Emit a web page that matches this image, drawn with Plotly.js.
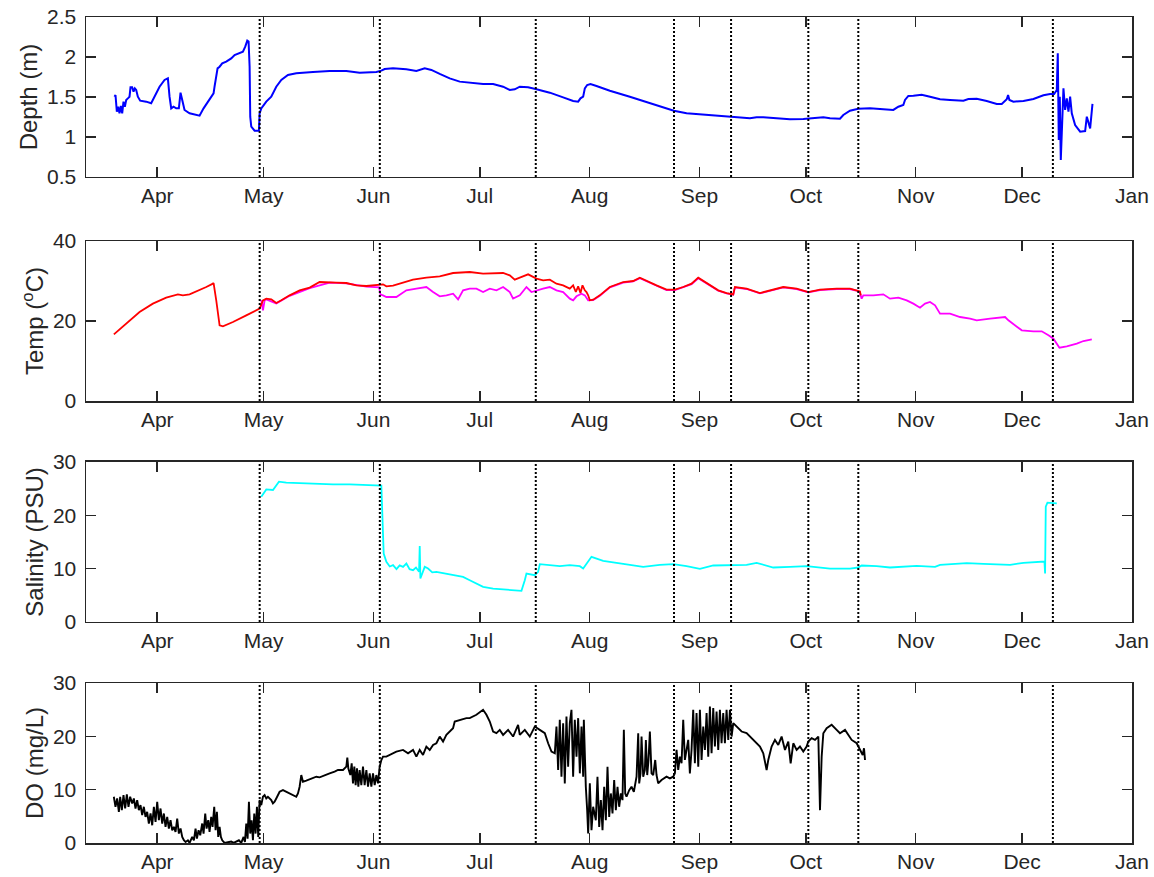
<!DOCTYPE html>
<html>
<head>
<meta charset="utf-8">
<script src="https://cdn.plot.ly/plotly-3.0.1.min.js"></script>
<style>html,body{margin:0;padding:0;background:#fff;}#chart{width:1154px;height:877px;}</style>
</head>
<body>
<div id="chart"></div>
<script>
// ---- data (x as days since 2015-01-01) ----
const depthDay = [77.94,78.22,78.6,78.98,79.35,79.73,80.11,80.48,80.86,81.24,81.71,82.18,82.46,82.93,83.31,83.68,84.06,84.53,85.19,86.88,88.29,89.23,90.65,92.06,93.0,93.47,93.94,94.6,95.35,96.1,96.57,97.05,97.7,99.12,101.94,103.07,104.76,105.89,106.17,106.83,107.02,107.59,108.34,109.47,110.88,111.82,113.23,114.17,114.83,115.4,115.77,116.06,116.24,116.53,117.47,118.69,118.88,119.35,120.76,122.17,123.58,125.0,126.88,129.23,133.94,138.64,143.35,147.11,151.82,153.23,154.17,156.52,160.29,163.11,165.46,167.34,169.7,172.52,175.34,
178.17,181.93,184.76,187.58,189.46,190.87,192.29,194.64,197.0,200.76,204.52,207.34,208.76,209.41,210.17,210.64,211.3,212.24,213.93,217.7,223.34,228.99,232.75,235.76,239.34,244.05,249.69,253.46,257.22,259.1,260.99,264.75,268.51,272.28,276.04,277.93,279.81,282.63,283.57,
285.45,287.8,291.1,294.86,297.68,299.1,300.5,300.98,301.92,303.33,305.68,308.04,310.86,313.68,317.45,318.86,321.21,324.03,326.86,328.27,329.21,329.68,330.06,330.43,331.56,334.39,337.21,340.03,341.92,343.05,343.8,344.08,344.36,344.65,344.93,345.3,345.68,346.15,346.62,347.09,347.56,348.03,348.97,350.39,351.8,352.27,352.74,353.21,353.87];
const depthVal = [1.504,1.525,1.317,1.379,1.296,1.387,1.296,1.442,1.379,1.463,1.483,1.504,1.621,1.621,1.567,1.608,1.588,1.504,1.454,1.442,1.421,1.504,1.629,1.713,1.733,1.504,1.358,1.379,1.358,1.358,1.554,1.463,1.338,1.296,1.267,1.358,1.463,1.546,1.629,1.796,1.858,1.879,1.921,1.942,1.983,2.025,2.054,2.067,2.129,2.204,2.192,1.879,1.254,1.129,1.079,1.079,1.296,1.358,1.442,1.504,1.629,1.713,1.775,1.796,1.813,1.825,1.825,1.804,1.813,1.829,1.85,1.858,1.846,1.825,1.858,1.838,1.788,1.733,1.692,
1.679,1.662,1.662,1.629,1.588,1.596,1.629,1.621,1.596,1.554,1.496,1.450,1.442,1.483,1.504,1.608,1.65,1.662,1.638,1.579,1.504,1.421,1.371,1.329,1.296,1.279,1.254,1.242,1.233,1.246,1.246,1.233,1.221,1.225,1.237,1.246,1.233,1.229,1.275,
1.329,1.354,1.358,1.346,1.338,1.379,1.4,1.463,1.513,1.517,1.529,1.504,1.471,1.463,1.454,1.475,1.479,1.45,1.413,1.413,1.45,1.471,1.525,1.463,1.442,1.45,1.475,1.521,1.538,1.538,1.588,2.046,0.963,1.504,0.713,1.129,1.608,1.338,1.483,1.317,1.504,1.296,1.15,1.067,1.075,1.254,1.171,1.108,1.413];

const tempMagDay = [119.36,119.83,120.3,120.77,123.59,127.35,133.0,138.65,143.35,149.0,152.6,153.0,153.7,154.65,157.47,160.29,163.12,165.94,167.82,169.7,171.59,173.47,174.88,176.29,178.17,180.05,181.93,183.82,185.7,187.58,189.46,190.4,192.29,194.17,195.58,197.0,198.87,200.76,202.64,204.52,206.4,207.34,208.29,209.7,210.64,211.58,212.99,214.87,217.7,221.46,224.28,226.17,228.05,230.87,233.7,236.05,238.4,240.75,242.64,244.05,245.93,248.28,250.63,252.52,252.99,256.28,260.04,262.87,266.63,270.4,273.69,276.98,281.69,285.45,287.81,288.27,288.74,289.21,292.04,294.86,296.74,299.1,301.45,303.33,305.21,306.63,308.04,309.45,310.86,313.68,316.51,319.33,321.21,324.98,329.21,330.15,332.51,333.92,337.21,339.56,341.45,342.86,344.55,346.62,349.44,351.33,353.68];
const tempMagVal = [25.2,22.67,25.17,25.4,24.4,26.3,28.2,29.6,29.4,28.6,28.4,26.6,26.42,26.0,26.0,27.67,28.09,28.5,27.25,26.17,26.42,26.84,25.42,27.67,28.09,28.09,27.25,28.09,27.67,28.5,27.25,25.59,26.42,28.5,27.25,27.67,28.09,28.5,27.67,27.25,25.59,25.17,26.17,26.84,26.42,25.17,25.2,26.3,28.4,29.6,29.9,30.7,29.9,28.8,27.7,27.7,28.4,29.2,30.7,29.9,28.8,27.6,26.9,26.6,28.4,28.0,26.9,27.6,28.4,28.0,27.2,27.7,28.0,28.0,27.5,27.0,25.59,26.42,26.42,26.67,25.59,25.84,25.17,24.34,23.34,24.34,24.75,23.92,21.84,21.84,21.0,20.59,20.17,20.59,21.0,20.17,18.5,17.67,17.42,17.42,16.42,15.59,13.34,13.67,14.34,15.0,15.42];

const tempRedDay = [77.76,81.24,85.01,88.77,92.53,95.83,97.24,99.12,101.95,103.83,105.71,105.9,106.65,107.59,108.53,111.36,115.12,118.88,119.83,120.77,122.18,123.59,125.0,127.35,130.18,133.0,135.82,138.65,140.53,143.35,146.18,149.0,151.82,153.7,154.65,156.53,158.41,162.17,165.94,169.7,173.47,177.23,
178.17,181.93,185.7,187.58,189.46,190.87,192.29,194.64,197.0,198.87,200.76,202.64,204.52,206.4,207.34,208.1,208.76,209.41,209.98,210.64,211.11,211.58,212.05,212.99,214.87,217.7,221.46,224.28,226.17,228.05,230.87,233.7,236.05,238.4,240.75,242.64,244.05,245.93,248.28,250.63,252.52,252.99,256.28,260.04,262.87,266.63,270.4,273.69,276.98,281.69,285.45,287.81,288.27,288.5];
const tempRedVal = [16.67,19.34,22.25,24.34,25.84,26.67,26.42,26.67,27.67,28.5,29.34,29.5,25.17,18.92,18.67,19.75,21.42,23.09,25.17,25.59,25.42,24.5,25.17,26.42,27.67,28.34,29.75,29.75,29.59,29.5,28.92,28.75,28.92,29.17,28.67,28.84,29.34,30.34,30.84,31.17,32.0,32.17,
32.25,31.84,31.84,32.0,31.42,30.34,30.84,31.67,30.59,30.17,30.34,29.34,28.92,28.09,28.92,27.25,28.67,27.0,28.92,27.67,27.25,26.42,25.17,25.34,26.42,28.5,29.75,30.0,30.84,30.0,28.92,27.84,27.84,28.5,29.34,30.84,30.0,28.92,27.67,27.0,26.67,28.5,28.09,27.0,27.67,28.5,28.09,27.25,27.84,28.09,28.09,27.67,27.4,26.42];

const salDay = [119.35,120.77,122.65,123.4,124.34,126.41,130.18,134.88,139.59,144.29,149.0,153.23,
153.89,154.65,155.6,156.53,157.5,158.4,159.35,160.29,161.2,162.17,163.0,163.87,164.06,164.24,165.47,166.41,167.6,168.76,171.0,173.47,176.29,178.17,180.05,181.94,184.76,187.58,190.41,192.76,193.7,194.17,196.52,197.46,197.94,200.76,203.58,206.4,209.23,210.17,211.58,212.52,215.82,221.46,227.11,231.81,235.58,239.34,243.11,246.87,251.58,256.28,259.11,263.81,268.52,273.22,279.81,
285.45,287.8,288.74,292.98,296.74,304.27,309.45,310.86,318.39,323.09,330.62,334.39,337.21,340.32,340.5,340.69,341.16,342.39,343.8];
const salVal = [23.49,24.86,24.74,25.36,26.3,26.11,25.99,25.86,25.8,25.8,25.68,25.55,
12.84,11.27,10.4,10.65,9.9,10.6,10.34,10.96,9.9,9.71,10.2,9.4,14.22,8.15,10.34,10.02,9.3,9.4,9.1,8.77,8.46,7.83,7.21,6.58,6.26,6.08,5.95,5.83,7.83,9.08,8.77,9.4,10.84,10.65,10.46,10.65,10.46,10.02,11.27,12.21,11.46,10.84,10.34,10.71,10.84,10.46,9.96,10.59,10.59,10.71,11.09,10.21,10.34,10.46,10.02,
10.02,10.21,10.59,10.46,10.21,10.52,10.34,10.71,11.02,10.9,10.71,11.09,11.21,11.34,9.08,21.61,22.36,22.36,22.23];

const doDay = [77.75,78.22,78.69,79.17,79.54,80.01,80.48,80.95,81.42,81.89,82.36,82.93,83.4,83.87,84.34,84.81,85.28,85.75,86.22,86.69,87.16,87.63,88.11,88.58,89.05,89.52,89.99,90.46,90.93,91.4,91.87,92.34,92.81,93.28,93.75,94.22,94.69,95.16,95.63,96.1,96.58,97.05,97.52,97.99,98.65,99.12,99.87,100.34,100.81,101.19,101.66,102.13,102.69,103.07,103.54,103.92,104.39,104.76,105.23,105.61,106.08,106.46,106.83,107.21,107.59,107.96,108.34,109.0,109.94,110.88,111.54,112.29,113.04,113.7,114.36,114.74,115.12,115.49,115.87,116.24,116.62,117.0,117.37,117.75,118.13,118.5,118.69,118.88,119.35,119.82,120.29,120.76,121.23,122.17,122.64,123.11,123.58,124.53,125.47,126.41,127.35,128.29,129.23,129.7,130.17,130.64,131.11,132.06,133.47,134.88,135.82,137.23,138.64,140.05,140.99,142.41,143.35,143.63,143.91,144.48,144.86,145.23,145.61,145.98,146.36,146.74,147.11,147.58,148.05,148.52,149.0,149.47,149.94,150.41,150.88,151.35,151.82,152.29,152.76,153.23,153.7,154.64,155.58,157.46,159.35,160.76,162.17,163.11,164.05,164.99,165.93,166.88,167.82,168.76,169.7,170.64,171.58,172.52,173.46,173.93,175.35,177.23,
178.17,180.05,181.93,182.88,183.82,184.76,185.7,186.64,187.58,188.99,190.4,191.81,192.29,193.7,195.11,196.52,197.93,199.35,200.29,201.23,202.17,202.64,203.11,203.58,204.05,204.52,204.99,205.46,205.93,206.4,206.87,207.34,207.81,208.29,208.76,209.23,209.7,210.17,210.36,210.64,210.92,211.3,211.58,212.05,212.52,212.99,213.74,214.21,214.69,215.16,215.63,216.1,216.57,217.04,217.51,217.98,218.45,218.92,219.39,219.86,220.33,220.8,221.27,221.65,222.03,222.4,223.16,223.81,224.47,225.23,225.7,225.98,226.35,226.64,227.11,227.58,227.86,228.24,228.61,228.99,229.46,229.93,230.5,230.87,231.34,232.28,233.69,234.64,235.58,236.05,236.52,236.99,237.46,237.93,238.4,238.87,239.34,239.81,240.28,240.75,241.22,241.69,242.16,242.64,243.11,243.58,244.05,244.52,244.99,245.46,245.93,246.4,246.87,247.34,247.81,248.28,248.75,249.22,249.69,250.16,250.63,251.11,251.58,252.05,252.52,253.46,254.87,256.28,257.69,259.1,260.05,260.99,261.93,262.4,263.34,264.28,265.22,266.16,267.11,268.05,268.71,269.46,270.4,271.34,272.28,273.22,273.69,274.63,275.58,276.52,276.99,277.46,277.93,278.87,280.28,281.69,282.63,284.05,284.99,285.93,287.34,288.28,289.04,289.41,289.69];
const doVal = [8.67,6.79,8.35,5.84,8.67,6.16,8.98,6.47,9.11,6.79,8.67,7.41,8.35,6.47,8.04,6.16,7.1,5.22,6.79,4.9,5.84,3.65,5.53,3.33,6.79,3.96,7.73,4.27,6.47,3.65,5.53,3.02,4.9,2.71,4.27,2.39,3.02,2.08,4.59,1.77,2.71,1.14,0.51,0.2,0.51,0.01,1.14,0.51,2.71,0.82,2.39,1.45,3.65,1.77,5.53,2.71,4.27,2.08,4.9,3.02,6.79,2.39,5.84,1.14,3.02,1.14,0.51,0.01,0.13,0.26,0.01,0.2,0.51,0.01,1.14,0.2,3.65,0.82,7.73,1.77,4.27,0.51,5.53,1.77,6.79,1.14,6.16,8.04,7.1,8.67,8.98,8.35,8.67,8.04,7.41,7.73,8.35,9.61,9.92,9.61,9.29,8.98,8.67,9.29,10.55,12.74,11.49,11.68,12.12,12.43,12.31,12.74,13.06,13.37,13.69,13.69,14.31,16.01,14.0,12.74,14.94,11.18,14.31,10.86,14.0,10.55,13.69,10.86,14.31,10.86,13.69,10.55,13.06,10.55,13.06,10.86,12.74,11.18,14.31,15.57,16.2,16.2,16.51,17.14,17.45,16.82,17.45,16.2,17.45,16.51,18.08,17.45,18.39,18.7,19.96,19.02,20.27,20.9,21.53,22.78,23.1,23.41,
23.41,24.04,24.98,24.04,22.78,20.9,20.59,21.21,20.27,21.21,19.96,22.16,20.27,21.21,19.96,21.84,21.21,20.59,18.7,17.14,16.82,21.84,13.69,23.1,12.43,22.47,11.18,23.72,14.31,22.47,24.98,12.43,23.1,16.2,23.41,13.06,21.84,12.43,23.1,15.57,10.55,6.16,1.77,11.18,2.39,6.79,4.27,12.43,3.02,8.04,2.39,10.55,4.27,14.31,4.9,9.29,5.53,11.8,6.16,10.55,6.79,9.29,8.04,21.21,9.29,8.67,9.92,10.55,9.61,12.43,20.59,11.18,13.06,19.96,12.43,13.69,19.33,12.74,15.57,20.9,13.06,12.74,15.57,12.74,11.18,11.8,12.43,12.12,12.43,13.06,17.45,13.69,16.2,14.94,23.1,15.57,17.45,19.33,13.06,17.45,24.98,14.94,24.35,14.31,24.98,15.57,21.84,17.45,24.35,16.2,25.61,16.82,25.29,18.08,24.67,17.45,24.98,18.7,24.35,18.7,24.98,19.33,24.98,19.96,22.47,21.84,20.9,20.59,19.65,18.7,18.08,16.82,13.69,15.57,18.08,19.33,18.39,19.96,17.45,19.02,14.94,18.7,17.45,18.08,17.14,18.08,19.02,19.65,19.33,19.96,6.16,16.2,20.59,21.53,22.16,21.21,20.59,21.21,20.27,19.33,18.7,17.45,16.51,17.76,15.57];

const eventDay = [118.9,152.8,196.8,235.8,251.9,273.7,287.8,342.7];
const monthTicks = ['2015-04-01','2015-05-01','2015-06-01','2015-07-01','2015-08-01','2015-09-01','2015-10-01','2015-11-01','2015-12-01','2016-01-01'];
const monthLabels = ['Apr','May','Jun','Jul','Aug','Sep','Oct','Nov','Dec','Jan'];

// ---- helpers ----
function toDate(d){
  const ms = Date.UTC(2015,0,1) + d*86400000;
  return new Date(ms).toISOString().replace('T',' ').slice(0,19);
}
const D = arr => arr.map(toDate);

const FONT = 'Liberation Sans, Arial, Helvetica, sans-serif';
const INK = '#262626';

const traces = [
  {x:D(depthDay), y:depthVal, xaxis:'x', yaxis:'y', type:'scatter', mode:'lines', line:{color:'#0000ff', width:2}},
  {x:D(tempMagDay), y:tempMagVal, xaxis:'x2', yaxis:'y2', type:'scatter', mode:'lines', line:{color:'#ff00ff', width:1.8}},
  {x:D(tempRedDay), y:tempRedVal, xaxis:'x2', yaxis:'y2', type:'scatter', mode:'lines', line:{color:'#ff0000', width:1.8}},
  {x:D(salDay), y:salVal, xaxis:'x3', yaxis:'y3', type:'scatter', mode:'lines', line:{color:'#00ffff', width:1.8}},
  {x:D(doDay), y:doVal, xaxis:'x4', yaxis:'y4', type:'scatter', mode:'lines', line:{color:'#000000', width:1.9}}
];

const xRange = [toDate(69.9), toDate(365.02)];
function xAxis(anchor){
  return {
    type:'date', range:xRange, anchor:anchor, matches: anchor==='y' ? undefined : 'x',
    tickvals:monthTicks, ticktext:monthLabels,
    ticks:'inside', ticklen:10, tickwidth:1.5, tickcolor:INK,
    showline:true, linecolor:INK, linewidth:1.5, mirror:'allticks',
    showgrid:false, zeroline:false, ticklabelstandoff:-1,
    tickfont:{family:FONT, size:21, color:INK}
  };
}
function yAxis(anchor, domain, range, tv, tt, title){
  return {
    anchor:anchor, domain:domain, range:range,
    tickvals:tv, ticktext:tt,
    ticks:'inside', ticklen:10, tickwidth:1.5, tickcolor:INK,
    showline:true, linecolor:INK, linewidth:1.5, mirror:'allticks',
    showgrid:false, zeroline:false, ticklabelstandoff:4,
    tickfont:{family:FONT, size:21, color:INK},
    title:{text:title, font:{family:FONT, size:24, color:INK}, standoff:2}
  };
}

const yrefs = ['y','y2','y3','y4'];
const shapes = [];
yrefs.forEach((yr,i)=>{
  eventDay.forEach(d=>{
    shapes.push({type:'line', xref: i===0?'x':'x'+(i+1), yref: yr+' domain',
      x0:toDate(d), x1:toDate(d), y0:0, y1:1,
      line:{color:'#000', width:2, dash:'2px,2px'}, layer:'above'});
  });
});

const layout = {
  width:1154, height:877,
  margin:{l:86, r:22, t:17, b:34},
  paper_bgcolor:'#fff', plot_bgcolor:'#fff',
  showlegend:false,
  font:{family:FONT, color:INK},
  xaxis: xAxis('y'), xaxis2: xAxis('y2'), xaxis3: xAxis('y3'), xaxis4: xAxis('y4'),
  yaxis: yAxis('x', [0.8063,1], [0.5,2.5], [0.5,1,1.5,2,2.5], ['0.5','1','1.5','2','2.5'], 'Depth (m)'),
  yaxis2: yAxis('x2', [0.5351,0.7288], [0,40], [0,20,40], ['0','20','40'], 'Temp (<sup>o</sup>C)'),
  yaxis3: yAxis('x3', [0.2676,0.4613], [0,30], [0,10,20,30], ['0','10','20','30'], 'Salinity (PSU)'),
  yaxis4: yAxis('x4', [0,0.1937], [0,30], [0,10,20,30], ['0','10','20','30'], 'DO (mg/L)'),
  shapes: shapes
};

Plotly.newPlot('chart', traces, layout, {displayModeBar:false, staticPlot:true});
</script>
</body>
</html>
